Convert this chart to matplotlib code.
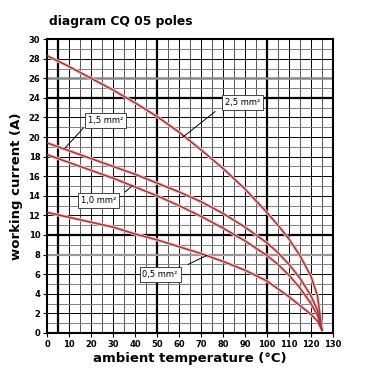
import numpy as np
import matplotlib
matplotlib.use("Agg")
import matplotlib.pyplot as plt

# ambient temperature (°C) and working current (A) per cross-section
temp = [0, 10, 20, 30, 40, 50, 60, 70, 80, 90, 100, 105, 110, 115, 120, 123, 125]
i_25 = [28.3, 27.2, 26.0, 24.8, 23.5, 22.1, 20.5, 18.7, 16.8, 14.7, 12.3, 11.0, 9.6, 7.9, 5.8, 3.8, 0.3]
i_15 = [19.4, 18.6, 17.8, 17.0, 16.2, 15.3, 14.4, 13.4, 12.2, 10.8, 9.2, 8.2, 7.0, 5.6, 3.8, 2.3, 0.3]
i_10 = [18.2, 17.4, 16.6, 15.8, 14.9, 14.0, 13.0, 11.9, 10.7, 9.4, 7.9, 7.0, 5.9, 4.6, 3.0, 1.8, 0.3]
i_05 = [12.3, 11.8, 11.3, 10.8, 10.1, 9.5, 8.8, 8.1, 7.3, 6.4, 5.3, 4.5, 3.7, 2.8, 1.9, 1.2, 0.3]

labels = ["2,5 mm²", "1,5 mm²", "1,0 mm²", "0,5 mm²"]
# label box position and where the leader line points (data units)
label_pos = [(89, 23.5), (26.4, 21.7), (23.3, 13.5), (51.4, 6.0)]
leader_from = [(76.4, 22.6), (16.4, 20.9), (35.5, 14.4), (64.2, 7.0)]
leader_to = [(61.8, 20.0), (8.2, 18.9), (38.6, 15.0), (72.6, 7.9)]

fig = plt.figure(figsize=(3.8, 3.8), dpi=100)
ax = fig.add_axes([0.124, 0.124, 0.752, 0.773])

# grid
for x in range(0, 131, 5):
    c = "black" if x % 10 == 0 else "#555555"
    ax.axvline(x, color=c, lw=0.7, zorder=1)
for y in range(0, 31):
    c = "black" if y % 2 == 0 else "#808080"
    ax.axhline(y, color=c, lw=0.7, zorder=1)
for x in [5, 50, 100]:
    ax.axvline(x, color="black", lw=1.6, zorder=1)
for y in [10, 24]:
    ax.axhline(y, color="black", lw=1.6, zorder=1)
ax.axhline(26, color="#888888", lw=1.8, zorder=1)
ax.axhline(8, color="#999999", lw=1.6, zorder=1)

for s in [i_25, i_15, i_10, i_05]:
    ax.plot(temp, s, color="#f5c8c8", lw=2.4, zorder=2, solid_capstyle="round")
    ax.plot(temp, s, color="#a83535", lw=1.1, zorder=3)

for lab, p, a, b in zip(labels, label_pos, leader_from, leader_to):
    ax.plot([a[0], b[0]], [a[1], b[1]], color="black", lw=0.7, zorder=4)
    ax.text(p[0], p[1], lab, fontsize=6, ha="center", va="center", zorder=5,
            bbox=dict(boxstyle="square,pad=0.35", fc="white", ec="#444444", lw=0.7))

ax.set_xlim(0, 130)
ax.set_ylim(0, 30)
ax.set_xticks(range(0, 131, 10))
ax.set_yticks(range(0, 31, 2))
ax.tick_params(labelsize=6, length=3, width=0.8, pad=2)
for t in ax.get_xticklabels() + ax.get_yticklabels():
    t.set_fontweight("bold")
for sp in ax.spines.values():
    sp.set_linewidth(1.5)

ax.set_xlabel("ambient temperature (°C)", fontsize=9.5, fontweight="bold", labelpad=2)
ax.set_ylabel("working current (A)", fontsize=9.5, fontweight="bold", labelpad=4)
fig.text(0.13, 0.935, "diagram CQ 05 poles", fontsize=8.8, fontweight="bold")

plt.savefig("out.png", dpi=100)
